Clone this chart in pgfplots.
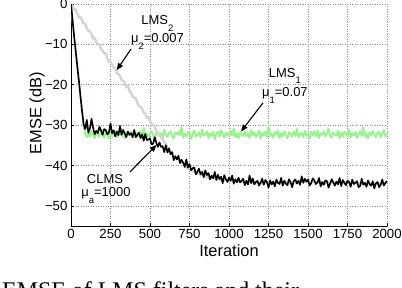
\documentclass[border=0pt]{standalone}
\usepackage{fontspec}
\setmainfont{Liberation Sans}
\newfontfamily\capfont{Liberation Serif}
\usepackage{pgfplots}
\pgfplotsset{compat=1.18}
\usetikzlibrary{arrows.meta}
\definecolor{lmsgreen}{RGB}{150,245,140}
\definecolor{lmsgray}{RGB}{212,212,212}
\newcommand\msub[1]{\raisebox{-0.5em}{\fontsize{9.5}{10}\selectfont #1}}
\begin{document}
\begin{tikzpicture}
\path (0,0) rectangle (402bp,288bp);
\begin{axis}[
  at={(71bp,62bp)}, anchor=south west,
  scale only axis, width=316bp, height=222bp,
  xmin=0, xmax=2000, ymin=-55, ymax=0,
  axis x line*=bottom, axis y line*=left,
  axis line style={line width=0.6pt, black},
  tick align=inside, major tick length=3bp,
  tick style={line width=0.5pt, black},
  xtick={0,250,500,750,1000,1250,1500,1750,2000},
  xticklabels={0,250,500,750,1000,1250,1500,1750,2000},
  ytick={-50,-40,-30,-20,-10,0},
  yticklabels={−50,−40,−30,−20,−10,0},
  ticklabel style={font=\fontsize{13.3}{15}\selectfont, overlay},
  grid=major,
  major grid style={line width=0.5pt, black!45, dash pattern=on 0.5pt off 2pt},
  xlabel={Iteration}, ylabel={EMSE (dB)},
  label style={font=\fontsize{16.5}{18}\selectfont},
  xlabel style={at={(axis description cs:0.5,-0.1396)}, anchor=base},
  ylabel style={at={(axis description cs:-0.1076,0.507)}, anchor=center},
]
% LMS1 (green)
\addplot[color=lmsgreen, line width=1.9pt, line join=round] coordinates {
(0,0)(10,-4.1)(20,-8.2)(30,-11.9)(40,-15.6)(50,-19.2)(60,-23.0)(70,-26.8)(80,-30.3)(90,-32.2)(100,-33.0)
(110,-32.0)(120,-32.8)(130,-31.5)(140,-32.5)(150,-33.2)(160,-31.9)(170,-32.2)(180,-32.9)(190,-31.3)(200,-32.6)
(210,-33.1)(220,-31.8)(230,-32.1)(240,-33.4)(250,-31.6)(260,-32.7)(270,-32.3)(280,-31.4)(290,-33.0)(300,-32.0)
(310,-32.5)(320,-31.0)(330,-32.8)(340,-33.2)(350,-31.7)(360,-32.2)(370,-32.6)(380,-31.5)(390,-33.3)(400,-32.1)
(410,-31.8)(420,-32.9)(430,-32.3)(440,-31.6)(450,-33.1)(460,-30.7)(470,-32.7)(480,-32.0)(490,-33.0)(500,-32.2)
(510,-31.4)(520,-32.5)(530,-33.5)(540,-31.9)(550,-31.7)(560,-32.8)(570,-32.1)(580,-33.2)(590,-31.2)(600,-32.4)
(610,-32.9)(620,-32.0)(630,-31.5)(640,-32.7)(650,-33.3)(660,-31.8)(670,-32.3)(680,-31.6)(690,-32.6)(700,-30.4)
(710,-33.1)(720,-32.1)(730,-32.8)(740,-31.7)(750,-31.9)(760,-33.4)(770,-32.2)(780,-31.4)(790,-32.9)(800,-32.5)
(810,-31.8)(820,-33.0)(830,-31.1)(840,-32.6)(850,-32.3)(860,-31.5)(870,-33.2)(880,-32.0)(890,-32.7)(900,-31.7)
(910,-33.5)(920,-32.1)(930,-31.6)(940,-32.8)(950,-31.3)(960,-32.4)(970,-33.1)(980,-31.9)(990,-32.2)(1000,-32.9)
(1010,-31.4)(1020,-32.6)(1030,-30.8)(1040,-33.0)(1050,-32.1)(1060,-33.3)(1070,-31.7)(1080,-32.3)(1090,-32.7)(1100,-31.5)
(1110,-32.8)(1120,-32.0)(1130,-33.2)(1140,-31.2)(1150,-32.5)(1160,-31.8)(1170,-33.0)(1180,-32.3)(1190,-31.4)(1200,-33.4)
(1210,-31.9)(1220,-32.6)(1230,-31.6)(1240,-32.9)(1250,-30.2)(1260,-32.7)(1270,-32.1)(1280,-33.1)(1290,-31.7)(1300,-32.4)
(1310,-31.3)(1320,-33.2)(1330,-32.0)(1340,-32.8)(1350,-31.5)(1360,-32.5)(1370,-33.3)(1380,-31.8)(1390,-32.2)(1400,-32.9)
(1410,-31.6)(1420,-32.7)(1430,-31.0)(1440,-33.1)(1450,-32.3)(1460,-31.9)(1470,-33.0)(1480,-31.4)(1490,-32.6)(1500,-32.1)
(1510,-33.4)(1520,-31.7)(1530,-32.5)(1540,-31.5)(1550,-32.8)(1560,-31.3)(1570,-33.2)(1580,-32.0)(1590,-32.4)(1600,-31.6)
(1610,-32.9)(1620,-32.1)(1630,-30.9)(1640,-32.7)(1650,-33.1)(1660,-31.8)(1670,-32.3)(1680,-32.6)(1690,-31.4)(1700,-33.3)
(1710,-31.9)(1720,-32.9)(1730,-31.6)(1740,-32.2)(1750,-32.8)(1760,-31.1)(1770,-33.0)(1780,-32.0)(1790,-32.5)(1800,-31.7)
(1810,-33.2)(1820,-32.3)(1830,-31.5)(1840,-32.7)(1850,-30.6)(1860,-32.9)(1870,-32.1)(1880,-33.3)(1890,-31.8)(1900,-32.6)
(1910,-31.4)(1920,-32.4)(1930,-33.0)(1940,-31.9)(1950,-31.7)(1960,-33.1)(1970,-32.1)(1980,-31.2)(1990,-32.8)(2000,-32.3)
};
% LMS2 (gray)
\addplot[color=lmsgray, line width=2.4pt, line join=round] coordinates {
(0,0)(10,-0.5)(20,-1.4)(30,-1.4)(40,-2.4)(50,-3.3)(60,-3.3)(70,-4.0)(80,-4.9)(90,-4.8)(100,-5.9)
(110,-6.7)(120,-6.8)(130,-7.5)(140,-8.6)(150,-8.4)(160,-9.4)(170,-9.9)(180,-10.1)(190,-11.3)(200,-11.5)
(210,-12.3)(220,-12.2)(230,-13.5)(240,-14.3)(250,-14.3)(260,-15.0)(270,-15.8)(280,-15.9)(290,-17.2)(300,-17.3)
(310,-17.8)(320,-18.8)(330,-19.1)(340,-19.4)(350,-20.6)(360,-20.2)(370,-21.6)(380,-21.9)(390,-22.9)(400,-23.2)
(410,-23.4)(420,-24.4)(430,-25.4)(440,-25.4)(450,-25.9)(460,-26.9)(470,-27.2)(480,-28.2)(490,-28.0)(500,-29.0)
(510,-29.8)(520,-30.0)(530,-30.4)(540,-31.5)(550,-32.3)(560,-32.3)(570,-33.1)(580,-33.4)(590,-34.3)(600,-34.5)
(610,-35.7)(620,-35.8)(630,-36.7)(640,-36.8)(650,-37.9)(660,-37.8)(670,-38.4)(680,-38.3)(690,-39.3)(700,-39.1)
(720,-40.0)(740,-40.8)(760,-41.0)(780,-41.6)(800,-41.9)(820,-42.4)(840,-42.5)(860,-42.9)(880,-43.1)(900,-43.0)
(920,-43.5)(940,-43.4)(960,-43.8)(980,-43.6)(1000,-43.9)(1050,-43.8)(1100,-44.1)(1150,-44.0)(1200,-44.3)(1250,-44.2)
(1300,-44.3)(1350,-44.1)(1400,-44.3)(1450,-44.0)(1500,-44.0)(1550,-44.2)(1600,-44.3)(1650,-44.2)(1700,-44.3)(1750,-44.2)
(1800,-44.4)(1850,-44.5)(1900,-44.6)(1950,-44.5)(2000,-44.3)
};
% CLMS (black)
\addplot[color=black, line width=1.6pt, line join=round] coordinates {
(0,0)(10,-4.0)(20,-8.1)(30,-11.7)(40,-15.5)(50,-19.0)(60,-22.9)(70,-26.5)(80,-29.8)(90,-31.0)(100,-28.7)
(110,-31.9)(120,-30.8)(130,-28.4)(140,-30.7)(150,-32.3)(160,-31.4)(170,-32.0)(180,-30.4)(190,-31.3)(200,-32.4)
(210,-31.0)(220,-31.2)(230,-32.3)(240,-31.8)(250,-29.6)(260,-32.0)(270,-31.3)(280,-32.8)(290,-31.6)(300,-32.5)
(310,-30.2)(320,-32.4)(330,-31.2)(340,-32.1)(350,-33.0)(360,-31.6)(370,-32.4)(380,-32.0)(390,-33.0)(400,-31.2)
(410,-33.0)(420,-32.4)(430,-31.9)(440,-33.2)(450,-32.3)(460,-33.9)(470,-32.2)(480,-33.7)(490,-33.6)(500,-33.3)
(510,-34.8)(520,-34.6)(530,-33.0)(540,-34.4)(550,-35.4)(560,-34.3)(570,-35.4)(580,-35.2)(590,-36.7)(600,-35.0)
(610,-36.8)(620,-35.8)(630,-37.2)(640,-36.7)(650,-38.7)(660,-37.7)(670,-38.5)(680,-37.6)(690,-39.4)(700,-38.6)
(710,-39.3)(720,-40.4)(730,-38.5)(740,-40.5)(750,-39.7)(760,-41.2)(770,-40.7)(780,-40.5)(790,-42.2)(800,-41.6)
(810,-40.8)(820,-42.2)(830,-41.6)(840,-42.9)(850,-41.2)(860,-42.4)(870,-41.9)(880,-43.4)(890,-42.5)(900,-43.2)
(910,-41.6)(920,-43.6)(930,-42.3)(940,-43.4)(950,-42.8)(960,-44.4)(970,-42.4)(980,-43.4)(990,-44.1)(1000,-43.0)
(1010,-43.8)(1020,-42.5)(1030,-44.5)(1040,-43.4)(1050,-44.2)(1060,-43.0)(1070,-44.2)(1080,-43.8)(1090,-43.3)(1100,-44.9)
(1110,-43.8)(1120,-44.7)(1130,-42.5)(1140,-44.4)(1150,-43.2)(1160,-44.7)(1170,-44.1)(1180,-43.8)(1190,-45.0)(1200,-44.3)
(1210,-43.3)(1220,-44.8)(1230,-43.6)(1240,-44.1)(1250,-45.5)(1260,-43.7)(1270,-44.7)(1280,-44.0)(1290,-45.2)(1300,-43.5)
(1310,-44.3)(1320,-44.6)(1330,-43.1)(1340,-45.0)(1350,-43.8)(1360,-44.5)(1370,-44.9)(1380,-43.4)(1390,-44.2)(1400,-45.4)
(1410,-43.8)(1420,-43.5)(1430,-44.5)(1440,-43.8)(1450,-44.8)(1460,-42.7)(1470,-44.3)(1480,-43.3)(1490,-44.0)(1500,-43.5)
(1510,-45.0)(1520,-44.4)(1530,-43.2)(1540,-43.7)(1550,-44.6)(1560,-44.2)(1570,-43.1)(1580,-45.2)(1590,-44.1)(1600,-44.8)
(1610,-43.7)(1620,-43.9)(1630,-45.5)(1640,-44.5)(1650,-43.4)(1660,-44.2)(1670,-45.0)(1680,-44.0)(1690,-44.7)(1700,-43.1)
(1710,-45.1)(1720,-43.6)(1730,-44.3)(1740,-44.9)(1750,-43.8)(1760,-44.1)(1770,-45.3)(1780,-43.5)(1790,-44.6)(1800,-44.3)
(1810,-43.9)(1820,-45.4)(1830,-45.1)(1840,-43.3)(1850,-44.8)(1860,-44.3)(1870,-45.3)(1880,-43.7)(1890,-44.6)(1900,-45.0)
(1910,-43.9)(1920,-45.7)(1930,-44.4)(1940,-44.1)(1950,-45.4)(1960,-44.8)(1970,-43.5)(1980,-45.0)(1990,-44.3)(2000,-43.9)
};
% annotations
\node[anchor=base, font=\fontsize{13}{14}\selectfont] at (axis cs:547,-5.2) {LMS\msub{2}};
\node[anchor=base, font=\fontsize{13}{14}\selectfont] at (axis cs:547,-9.6) {μ\msub{2}=0.007};
\draw[-{Triangle[length=7bp,width=5.5bp]}, line width=1.1pt] (axis cs:380,-11.15) -- (axis cs:289,-16.4);
\node[anchor=base, font=\fontsize{13}{14}\selectfont] at (axis cs:1354,-18.1) {LMS\msub{1}};
\node[anchor=base, font=\fontsize{13}{14}\selectfont] at (axis cs:1354,-23.0) {μ\msub{1}=0.07};
\draw[-{Triangle[length=7bp,width=5.5bp]}, line width=1.1pt] (axis cs:1215,-24.5) -- (axis cs:1076,-31.6);
\node[anchor=base, font=\fontsize{13}{14}\selectfont] at (axis cs:215,-44.35) {CLMS};
\node[anchor=base, font=\fontsize{13}{14}\selectfont] at (axis cs:221,-47.8) {μ\msub{a}=1000};
\draw[-{Triangle[length=7bp,width=5.5bp]}, line width=1.1pt] (axis cs:373,-41.6) -- (axis cs:542,-34.9);
\end{axis}
\node[anchor=south west, inner sep=0pt, font=\capfont\fontsize{24}{24}\selectfont] at (2bp,0bp) {\raisebox{-10.9bp}[5bp][0pt]{EMSE of LMS filters and their}};
\end{tikzpicture}
\end{document}
